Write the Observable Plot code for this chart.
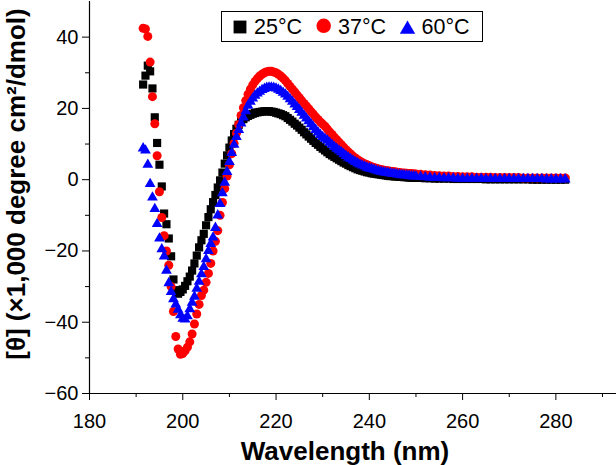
<!DOCTYPE html>
<html>
<head>
<meta charset="utf-8">
<script src="https://cdn.jsdelivr.net/npm/d3@7"></script>
<script src="https://cdn.jsdelivr.net/npm/@observablehq/plot@0.6"></script>
<style>
  body { margin: 0; background: #fff; }
  #wrap { position: relative; width: 616px; height: 465px; font-family: "Liberation Sans", Arial, sans-serif; }
  #legend { position: absolute; left: 221px; top: 11px; }
</style>
</head>
<body>
<div id="wrap"><div id="chart"></div><svg id="legend" width="263" height="32"></svg></div>
<script>
// Wavelength samples (nm)
const wavelength = [
  191.5,192,192.5,193,193.5,194,194.5,195,195.5,196,
  196.5,197,197.5,198,198.5,199,199.5,200,200.5,201,
  201.5,202,202.5,203,203.5,204,204.5,205,205.5,206,
  206.5,207,207.5,208,208.5,209,209.5,210,210.5,211,
  211.5,212,212.5,213,213.5,214,214.5,215,215.5,216,
  216.5,217,217.5,218,218.5,219,219.5,220,220.5,221,
  221.5,222,222.5,223,223.5,224,224.5,225,225.5,226,
  226.5,227,227.5,228,228.5,229,229.5,230,
  230.5,231,231.5,232,232.5,233,233.5,234,234.5,235,
  235.5,236,236.5,237,237.5,238,238.5,239,239.5,240,
  240.5,241,241.5,242,242.5,243,243.5,244,244.5,245,
  245.5,246,246.5,247,247.5,248,248.5,249,249.5,250,
  251,252,253,254,255,256,257,258,259,260,
  261,262,263,264,265,266,267,268,269,270,
  271,272,273,274,275,276,277,278,279,280,
  281,282
];
// [θ] (×1,000 degree cm²/dmol) at 25 °C
const theta25 = [
  26.7,29.2,32.0,30.4,25.6,17.5,10.3,4.2,-1.9,-9.5,
  -12.5,-16.5,-21.5,-28.0,-31.0,-32.0,-31.5,-30.8,-29.8,-28.5,
  -27.2,-25.5,-23.5,-21.3,-19.0,-17.0,-15.2,-12.8,-10.5,-8.3,
  -6.3,-4.3,-2.2,-0.2,2.0,4.5,6.8,9.0,11.0,12.8,
  14.3,15.4,16.3,17.0,17.5,17.9,18.2,18.5,18.7,18.9,
  19.0,19.1,19.2,19.2,19.2,19.1,19.0,18.8,18.6,18.4,
  18.1,17.8,17.3,16.8,16.3,15.7,15.2,14.6,14.0,13.3,
  12.7,12.1,11.5,10.9,10.3,9.8,9.2,8.7,
  8.2,7.7,7.2,6.8,6.4,6.0,5.6,5.2,4.8,4.5,
  4.1,3.8,3.5,3.2,2.9,2.7,2.5,2.3,2.1,2.0,
  1.8,1.7,1.6,1.5,1.4,1.3,1.2,1.1,1.0,1.0,
  0.9,0.9,0.8,0.8,0.7,0.7,0.6,0.6,0.5,0.5,
  0.5,0.4,0.4,0.3,0.3,0.3,0.3,0.2,0.2,0.2,
  0.2,0.2,0.2,0.2,0.1,0.1,0.1,0.1,0.1,0.1,
  0.1,0.1,0.1,0.1,0.0,0.0,0.0,0.0,0.0,0.0,
  0.0,0.0
];
// at 37 °C
const theta37 = [
  42.5,42.3,40.2,33.0,23.3,15.7,6.7,-3.4,-10.6,-15.7,
  -20.0,-24.0,-30.0,-37.0,-44.0,-47.5,-49.0,-48.8,-48.0,-47.0,
  -45.5,-43.3,-40.5,-37.7,-35.0,-32.5,-31.0,-28.8,-26.3,-23.5,
  -20.0,-17.3,-14.3,-10.0,-6.4,-2.5,1.0,4.2,7.3,10.2,
  13.0,15.5,18.0,20.2,22.2,24.0,25.4,26.6,27.6,28.4,
  29.1,29.6,30.0,30.3,30.4,30.4,30.2,30.0,29.6,29.1,
  28.5,27.8,27.0,26.2,25.4,24.6,23.8,23.0,22.2,21.4,
  20.7,19.9,19.1,18.4,17.6,16.9,16.2,15.6,
  15.0,14.2,13.4,12.7,11.9,11.2,10.5,9.8,9.1,8.4,
  7.8,7.2,6.6,6.1,5.6,5.2,4.8,4.5,4.2,3.9,
  3.6,3.4,3.2,3.0,2.85,2.7,2.6,2.5,2.4,2.3,
  2.2,2.1,2.0,1.9,1.85,1.8,1.75,1.7,1.65,1.6,
  1.5,1.4,1.3,1.2,1.1,1.0,1.0,0.9,0.9,0.8,
  0.8,0.8,0.7,0.7,0.7,0.7,0.6,0.6,0.6,0.6,
  0.6,0.6,0.5,0.5,0.5,0.5,0.5,0.5,0.5,0.5,
  0.5,0.5
];
// at 60 °C
const theta60 = [
  8.8,8.2,4.2,-1.2,-5.0,-8.2,-12.4,-16.5,-19.5,-21.5,
  -25.5,-29.0,-31.5,-33.5,-35.0,-36.5,-38.0,-39.0,-39.2,-38.3,
  -36.3,-34.5,-32.8,-30.6,-28.6,-26.5,-24.5,-22.3,-20.0,-18.0,
  -16.2,-13.5,-10.0,-6.8,-3.8,-0.8,2.2,5.0,7.5,9.8,
  12.0,14.0,15.8,17.5,19.2,20.8,21.9,22.8,23.6,24.2,
  24.7,25.2,25.5,25.8,25.9,25.9,25.8,25.6,25.3,24.9,
  24.4,23.9,23.3,22.6,21.9,21.1,20.4,19.6,18.8,18.0,
  17.2,16.4,15.6,14.8,14.0,13.3,12.6,12.0,
  11.5,11.0,10.4,9.8,9.2,8.7,8.2,7.7,7.2,6.7,
  6.2,5.8,5.4,5.0,4.6,4.3,4.0,3.7,3.4,3.2,
  3.0,2.8,2.6,2.4,2.25,2.1,2.0,1.9,1.8,1.7,
  1.6,1.5,1.4,1.3,1.25,1.2,1.1,1.0,0.95,0.9,
  0.8,0.7,0.6,0.5,0.5,0.4,0.4,0.4,0.3,0.3,
  0.3,0.3,0.3,0.3,0.2,0.2,0.2,0.2,0.2,0.2,
  0.2,0.2,0.2,0.2,0.2,0.2,0.2,0.1,0.1,0.1,
  0.1,0.1
];

const seriesNames = ["25°C", "37°C", "60°C"];
const seriesColors = ["#000000", "#ff0000", "#0000ff"];
const seriesSymbols = ["square", "circle", "triangle"];
const seriesR = [4.6, 4.5, 4.0];
const xTicks = [180, 200, 220, 240, 260, 280];
const xMinor = [190, 210, 230, 250, 270, 290];
const yTicks = [-60, -40, -20, 0, 20, 40];
const yMinor = [-50, -30, -10, 10, 30];
const xTitle = "Wavelength (nm)";
const yTitle = "[θ] (×1,000 degree cm²/dmol)";

const seriesValues = [theta25, theta37, theta60];
const rows = seriesValues.map((vals, i) =>
  wavelength.map((w, j) => ({wl: w, v: vals[j], series: seriesNames[i]})));

const W = 616, H = 465;
const chart = Plot.plot({
  width: W, height: H,
  marginLeft: 89, marginRight: 0, marginTop: 1, marginBottom: 72,
  style: {fontSize: "20px", fontFamily: "'Liberation Sans', Arial, sans-serif", color: "#000", background: "#fff"},
  x: {domain: [180, 293]},
  y: {domain: [-60, 50]},
  marks: [
    Plot.axisX(xMinor, {tickSize: 4, tickFormat: () => "", label: null}),
    Plot.axisX(xTicks, {tickSize: 7, tickPadding: 13, label: null, tickFormat: d => String(d)}),
    Plot.axisY(yMinor, {tickSize: 4, tickFormat: () => "", label: null}),
    Plot.axisY(yTicks, {tickSize: 7, tickPadding: 4, label: null, tickFormat: d => d < 0 ? "\u2212" + Math.abs(d) : String(d)}),
    Plot.ruleX([180], {stroke: "#000", strokeWidth: 1.2}),
    Plot.ruleY([-60], {stroke: "#000", strokeWidth: 1.2}),
    ...rows.map((data, i) => Plot.dot(data, {
      x: "wl", y: "v", symbol: seriesSymbols[i], r: seriesR[i],
      fill: seriesColors[i], stroke: "none"
    }))
  ]
});
document.getElementById("chart").appendChild(chart);

const svg = d3.select(chart);
svg.append("text")
  .attr("x", 345).attr("y", 460)
  .attr("text-anchor", "middle")
  .style("font-size", "26px").style("font-weight", "bold")
  .text(xTitle);
svg.append("text")
  .attr("transform", "translate(25,184) rotate(-90)")
  .attr("text-anchor", "middle")
  .style("font-size", "26px").style("font-weight", "bold")
  .text(yTitle);

// Legend box inside the plot area
const leg = d3.select("#legend");
leg.append("rect").attr("x", 0.5).attr("y", 0.5).attr("width", 261).attr("height", 30)
  .attr("fill", "#fff").attr("stroke", "#000").attr("stroke-width", 1);
const legSym = {square: d3.symbolSquare, circle: d3.symbolCircle, triangle: d3.symbolTriangle};
const legSymX = [19, 102.7, 186.5];
const legSymY = [16, 14.8, 18.4];
const legSymSize = [165, 165, 102];
const legTextX = [33, 117, 200.5];
seriesNames.forEach((name, i) => {
  leg.append("path")
    .attr("transform", `translate(${legSymX[i]},${legSymY[i]})`)
    .attr("d", d3.symbol(legSym[seriesSymbols[i]], legSymSize[i])())
    .attr("fill", seriesColors[i]);
  leg.append("text")
    .attr("x", legTextX[i]).attr("y", 22.5)
    .style("font-family", "'Liberation Sans', Arial, sans-serif")
    .style("font-size", "21.5px")
    .text(name);
});
</script>
</body>
</html>
